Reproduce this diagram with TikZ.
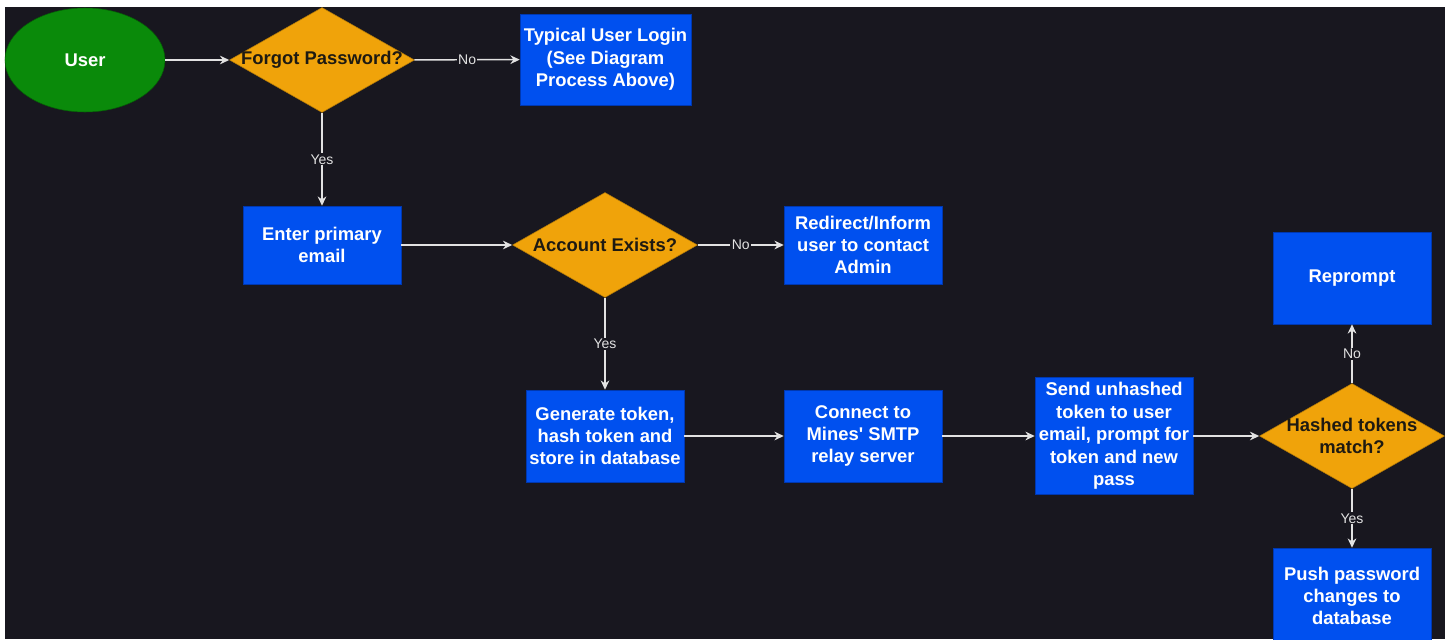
\documentclass[tikz,border=0pt]{standalone}
\usepackage{fontspec}
\setmainfont{Liberation Sans}
\usetikzlibrary{shapes.geometric,arrows.meta}
\definecolor{bgdark}{HTML}{18171F}
\definecolor{usergreen}{HTML}{0A8A0A}
\definecolor{useredge}{HTML}{056005}
\definecolor{boxblue}{HTML}{0050EF}
\definecolor{boxedge}{HTML}{0038B0}
\definecolor{diaorange}{HTML}{F0A30A}
\definecolor{diaedge}{HTML}{B07808}
\definecolor{diatext}{HTML}{1E1A12}
\definecolor{linegray}{HTML}{E2E2E2}

\tikzset{
  box/.style={rectangle, draw=boxedge, fill=boxblue, text=white, align=center,
    font=\bfseries\fontsize{13.8}{16.8}\selectfont, inner sep=0pt, minimum width=118.5pt},
  dia/.style={diamond, draw=diaedge, fill=diaorange, inner sep=0pt,
    minimum width=138.75pt, minimum height=78.75pt},
  dtext/.style={text=diatext, align=center, font=\bfseries\fontsize{13.8}{16.8}\selectfont},
  arr/.style={draw=linegray, line width=1.1pt, -{Stealth[length=7pt,width=6.5pt]}},
  lbl/.style={fill=bgdark, text=linegray, inner sep=1pt, font=\fontsize{10.5}{12}\selectfont}
}

\begin{document}
\begin{tikzpicture}[x=0.75pt,y=-0.75pt]
      \useasboundingbox (0,0) rectangle (1449,639);
      \fill[white] (0,0) rectangle (1449,639);
      \fill[bgdark] (5,7) rectangle (1445,639);
      \node[ellipse, draw=useredge, fill=usergreen, text=white, inner sep=0pt,
        minimum width=120pt, minimum height=78pt, font=\bfseries\fontsize{13.8}{16.8}\selectfont] (A) at (85,60) {User};
      \node[dia, label={[dtext]center:Forgot Password?}] (B) at (322,60) {};
      \node[box, minimum width=128.25pt, minimum height=68.25pt] (C) at (605.5,59.5) {Typical User Login\\(See Diagram\\Process Above)};
      \node[box, minimum height=58.5pt] (D) at (322,245) {Enter primary\\email};
      \node[dia, label={[dtext]center:Account Exists?}] (E) at (605,245) {};
      \node[box, minimum height=58.5pt] (F) at (863,245) {Redirect/Inform\\user to contact\\Admin};
      \node[box, minimum height=69pt] (G) at (605,436) {Generate token,\\hash token and\\store in database};
      \node[box, minimum height=69pt] (H) at (863,436) {Connect to\\Mines\textquotesingle{} SMTP\\relay server};
      \node[box, minimum height=87.75pt] (I) at (1114,436) {Send unhashed\\token to user\\email, prompt for\\token and new\\pass};
      \node[dia, label={[dtext]center:{Hashed tokens\\match?}}] (J) at (1352,436) {};
      \node[box, minimum height=69pt] (K) at (1352,278) {Reprompt};
      \node[box, minimum height=72pt] (L) at (1352,596) {Push password\\changes to\\database};
        % connectors
      \draw[arr] (A) -- (B);
      \draw[arr] (B) -- node[lbl] (n1) {No} (C);
      \draw[arr] (B) -- node[lbl] (n2) {Yes} (D);
      \draw[arr] (D) -- (E);
      \draw[arr] (E) -- node[lbl] (n3) {No} (F);
      \draw[arr] (E) -- node[lbl] (n4) {Yes} (G);
      \draw[arr] (G) -- (H);
      \draw[arr] (H) -- (I);
      \draw[arr] (I) -- (J);
      \draw[arr] (J) -- node[lbl] (n5) {No} (K);
      \draw[arr] (J) -- node[lbl] (n6) {Yes} (L);
\end{tikzpicture}
\end{document}
